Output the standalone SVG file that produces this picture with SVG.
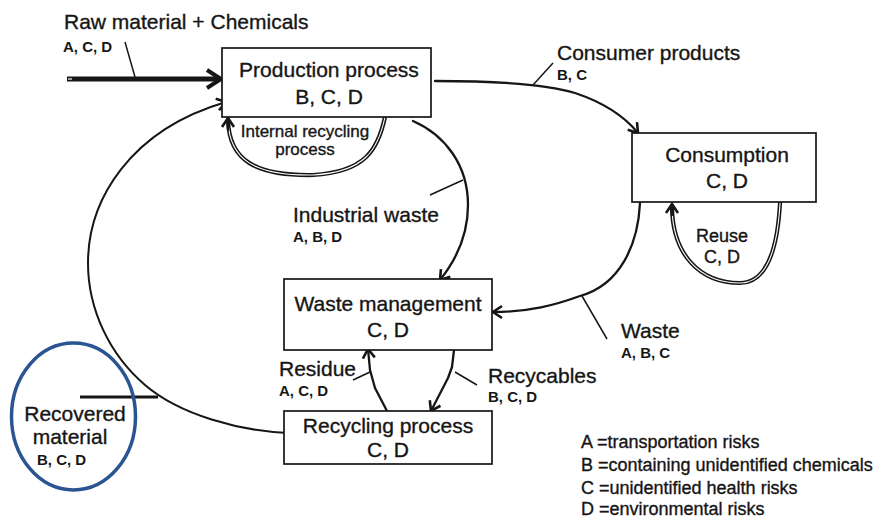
<svg xmlns="http://www.w3.org/2000/svg" width="885" height="519" viewBox="0 0 885 519">
<style>
.box{fill:#fff;stroke:#161616;stroke-width:1.7}
.t{font-family:"Liberation Sans",Arial,sans-serif;fill:#161616;stroke:#161616;stroke-width:0.35}
.big{font-size:21px}
.mid{font-size:17px}
.rs{font-size:18px}
.sm{font-size:15px;font-weight:bold;stroke-width:0}
.leg{font-size:18px}
.c{fill:none;stroke:#161616;stroke-width:2.3;stroke-linecap:round;stroke-linejoin:round}
.dbl{fill:none;stroke:#161616;stroke-width:4.2;stroke-linecap:round}
.dbi{fill:none;stroke:#fff;stroke-width:1.1}
.lead{stroke:#161616;stroke-width:1.5;fill:none}
</style>
<defs>
<marker id="ah" markerUnits="userSpaceOnUse" markerWidth="16" markerHeight="16" refX="12" refY="8" orient="auto">
<path d="M3,2 L12,8 L3,14" fill="none" stroke="#161616" stroke-width="2.6" stroke-linejoin="miter"/>
</marker>
</defs>

<g id="connectors">
<line x1="67" y1="79" x2="219" y2="79" stroke="#161616" stroke-width="5"/>
<line x1="68" y1="79" x2="72" y2="79" stroke="#fff" stroke-width="1.2"/>
<path d="M207,70 L221,79 L207,88" fill="none" stroke="#161616" stroke-width="4"/>
<path class="c" d="M435,81 C480,81 540,82 575,93 C605,103 625,117 638,133" marker-end="url(#ah)"/>
<path class="c" d="M413,121 C445,135 468,165 468,205 C468,240 452,265 440,280" marker-end="url(#ah)"/>
<path class="dbl" d="M385,117 C378,150 365,172 313,175 C255,176 229,160 228,120"/>
<path class="dbi" d="M385,117 C378,150 365,172 313,175 C255,176 229,160 228,120"/>
<path class="c" d="M228,130 L228,118" marker-end="url(#ah)"/>
<path class="dbl" d="M780,203 C778,240 770,283 740,283 C700,283 673,255 672,208"/>
<path class="dbi" d="M780,203 C778,240 770,283 740,283 C700,283 673,255 672,208"/>
<path class="c" d="M672,215 L672,204" marker-end="url(#ah)"/>
<path class="c" d="M640,203 C638,245 620,285 580,296 C555,305 530,312 493,312" marker-end="url(#ah)"/>
<path class="c" d="M387,411 L375,388 L370,370 L368,349" marker-end="url(#ah)"/>
<path class="c" d="M454,350 L452,367 L448,378 L431,411" marker-end="url(#ah)"/>
<path class="c" style="stroke-width:2" d="M288,433 C240,431 180,415 145,385 C110,355 88,310 88,263 C88,200 130,130 226,102" marker-end="url(#ah)"/>
<line class="lead" x1="125" y1="42" x2="135" y2="77"/>
<line class="lead" x1="533" y1="85" x2="553" y2="63"/>
<line class="lead" x1="430" y1="195" x2="463" y2="180"/>
<line class="lead" x1="582" y1="296" x2="607" y2="339"/>
<line class="lead" x1="353" y1="380" x2="370" y2="372"/>
<line class="lead" x1="455" y1="372" x2="477" y2="385"/>
<line x1="80" y1="397" x2="158" y2="397" stroke="#161616" stroke-width="3.2"/>
</g>

<g id="production">
<rect class="box" x="222" y="48" width="209" height="69"/>
<text class="t big" x="329" y="77" text-anchor="middle">Production process</text>
<text class="t big" x="329" y="104" text-anchor="middle">B, C, D</text>
</g>

<g id="consumption">
<rect class="box" x="632" y="133" width="184" height="69"/>
<text class="t big" x="727" y="162" text-anchor="middle">Consumption</text>
<text class="t big" x="727" y="188" text-anchor="middle">C, D</text>
</g>

<g id="waste-management">
<rect class="box" x="284" y="279" width="208" height="71"/>
<text class="t big" x="388" y="311" text-anchor="middle">Waste management</text>
<text class="t big" x="388" y="337" text-anchor="middle">C, D</text>
</g>

<g id="recycling">
<rect class="box" x="284" y="411" width="208" height="53"/>
<text class="t big" x="388" y="433" text-anchor="middle">Recycling process</text>
<text class="t big" x="388" y="457" text-anchor="middle">C, D</text>
</g>

<g id="recovered">
<ellipse cx="73.5" cy="416.5" rx="62" ry="73.5" fill="none" stroke="#2b5592" stroke-width="3.5"/>
<text class="t big" x="75" y="421" text-anchor="middle">Recovered</text>
<text class="t big" x="70" y="444" text-anchor="middle">material</text>
<text class="t sm" x="37" y="465">B, C, D</text>
</g>

<g id="labels">
<text class="t big" x="64" y="29">Raw material + Chemicals</text>
<text class="t sm" x="63" y="52">A, C, D</text>
<text class="t big" x="557" y="60">Consumer products</text>
<text class="t sm" x="557" y="80">B, C</text>
<text class="t mid" x="305" y="137" text-anchor="middle">Internal recycling</text>
<text class="t mid" x="305" y="155" text-anchor="middle">process</text>
<text class="t big" x="293" y="222">Industrial waste</text>
<text class="t sm" x="293" y="242">A, B, D</text>
<text class="t rs" x="722" y="242" text-anchor="middle">Reuse</text>
<text class="t rs" x="722" y="263" text-anchor="middle">C, D</text>
<text class="t big" x="621" y="338">Waste</text>
<text class="t sm" x="621" y="358">A, B, C</text>
<text class="t big" x="279" y="376">Residue</text>
<text class="t sm" x="279" y="396">A, C, D</text>
<text class="t big" x="488" y="383">Recycables</text>
<text class="t sm" x="488" y="402">B, C, D</text>
</g>

<g id="legend">
<text class="t leg" x="581" y="448">A =transportation risks</text>
<text class="t leg" x="581" y="471">B =containing unidentified chemicals</text>
<text class="t leg" x="581" y="494">C =unidentified health risks</text>
<text class="t leg" x="581" y="515">D =environmental risks</text>
</g>
</svg>
